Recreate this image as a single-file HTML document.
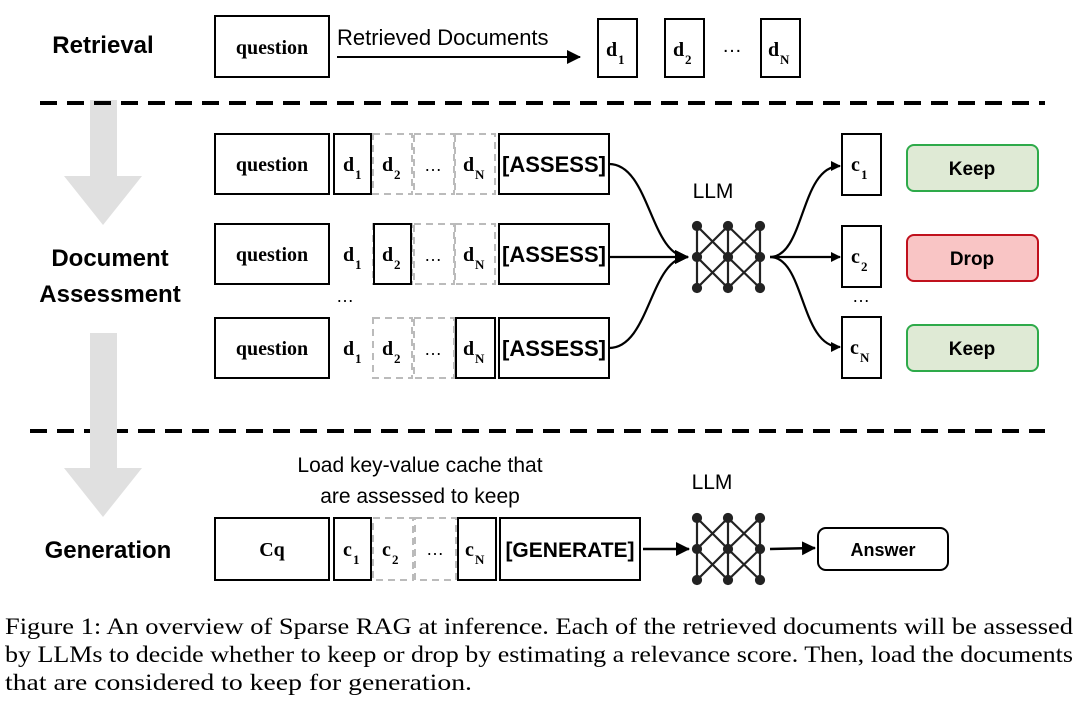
<!DOCTYPE html>
<html><head><meta charset="utf-8"><style>
body{margin:0;background:#fff;width:1080px;height:704px;overflow:hidden}
svg text{font-family:"Liberation Sans",sans-serif}
.s{font-family:"Liberation Serif",serif;font-weight:bold;font-size:20px}
.sub{font-family:"Liberation Serif",serif;font-weight:bold;font-size:13px}
.b{fill:#fff;stroke:#000;stroke-width:2}
.d{fill:#fff;stroke:#bbb;stroke-width:2;stroke-dasharray:7,5}
svg text.cap{font-family:"Liberation Serif",serif;font-size:23px}
</style></head><body>
<svg width="1080" height="704" style="position:absolute;left:0;top:0">
<defs><marker id="a" markerWidth="10" markerHeight="10" refX="9" refY="5" orient="auto" markerUnits="userSpaceOnUse"><path d="M0,0 L10,5 L0,10z" fill="#000"/></marker>
<marker id="a2" markerWidth="14" markerHeight="14" refX="13" refY="7" orient="auto" markerUnits="userSpaceOnUse"><path d="M0,0 L14,7 L0,14z" fill="#000"/></marker></defs>
<path d="M90,100 H117 V176 H142 L103,225 L64,176 H90Z" fill="#e0e0e0"/>
<line x1="40" y1="103" x2="1045" y2="103" stroke="#000" stroke-width="4" stroke-dasharray="17,10"/>
<line x1="30" y1="431" x2="1045" y2="431" stroke="#000" stroke-width="4" stroke-dasharray="17,10"/>
<path d="M90,333 H117 V468 H142 L103,517 L64,468 H90Z" fill="#e0e0e0"/>
<g font-weight="bold" font-size="24" text-anchor="middle">
<text x="103" y="53">Retrieval</text>
<text x="110" y="266">Document</text>
<text x="110" y="302">Assessment</text>
<text x="108" y="558">Generation</text>
</g>
<rect class="b" x="215" y="16" width="114" height="61"/>
<text class="s" x="272" y="54" text-anchor="middle">question</text>
<text x="337" y="45" font-size="22">Retrieved Documents</text>
<line x1="337" y1="57" x2="580" y2="57" stroke="#000" stroke-width="2" marker-end="url(#a2)"/>
<rect class="b" x="598" y="19" width="39" height="58"/><text class="s" x="606" y="56">d</text><text class="sub" x="618" y="64">1</text>
<rect class="b" x="665" y="19" width="39" height="58"/><text class="s" x="673" y="56">d</text><text class="sub" x="685" y="64">2</text>
<text x="732" y="52" font-size="20" text-anchor="middle">…</text>
<rect class="b" x="761" y="19" width="39" height="58"/><text class="s" x="768" y="56">d</text><text class="sub" x="780" y="64">N</text>
<g id="r1">
<rect class="b" x="215" y="134" width="114" height="60"/><text class="s" x="272" y="171" text-anchor="middle">question</text>
<rect class="d" x="373" y="134" width="39" height="60"/><rect class="d" x="414" y="134" width="40" height="60"/><rect class="d" x="455" y="134" width="40" height="60"/>
<rect class="b" x="499" y="134" width="110" height="60"/><text x="554" y="172" font-size="22" font-weight="bold" text-anchor="middle">[ASSESS]</text>
</g>
<rect class="b" x="334" y="134" width="37" height="60"/>
<text class="s" x="343" y="171">d</text><text class="sub" x="355" y="179">1</text>
<text class="s" x="382" y="171">d</text><text class="sub" x="394" y="179">2</text>
<text x="433" y="171" font-size="18" text-anchor="middle">…</text>
<text class="s" x="463" y="171">d</text><text class="sub" x="475" y="179">N</text>
<use href="#r1" y="90"/>
<rect class="b" x="374" y="224" width="37" height="60"/>
<text class="s" x="343" y="261">d</text><text class="sub" x="355" y="269">1</text>
<text class="s" x="382" y="261">d</text><text class="sub" x="394" y="269">2</text>
<text x="433" y="261" font-size="18" text-anchor="middle">…</text>
<text class="s" x="463" y="261">d</text><text class="sub" x="475" y="269">N</text>
<text x="345" y="302" font-size="18" text-anchor="middle">…</text>
<use href="#r1" y="184"/>
<rect class="b" x="456" y="318" width="39" height="60"/>
<text class="s" x="343" y="355">d</text><text class="sub" x="355" y="363">1</text>
<text class="s" x="382" y="355">d</text><text class="sub" x="394" y="363">2</text>
<text x="433" y="355" font-size="18" text-anchor="middle">…</text>
<text class="s" x="463" y="355">d</text><text class="sub" x="475" y="363">N</text>
<g fill="none" stroke="#000" stroke-width="2.2">
<path d="M609,164 C650,164 650,257 688,257" marker-end="url(#a2)"/>
<path d="M609,257 H688" marker-end="url(#a2)"/>
<path d="M609,348 C650,348 650,257 688,257" marker-end="url(#a2)"/>
<path d="M770,257 C805,257 800,166 840,166" marker-end="url(#a)"/>
<path d="M770,257 H840" marker-end="url(#a)"/>
<path d="M770,257 C805,257 800,347 840,347" marker-end="url(#a)"/>
</g>
<text x="713" y="198" font-size="21" text-anchor="middle">LLM</text>
<g id="net" stroke="#222" stroke-width="2.2" fill="#222">
<path d="M697,226V288M728,226V288M760,226V288M697,226L728,257L697,288M728,226L697,257L728,288M728,226L760,257L728,288M760,226L728,257L760,288" fill="none"/>
<circle cx="697" cy="226" r="4"/><circle cx="728" cy="226" r="4"/><circle cx="760" cy="226" r="4"/>
<circle cx="697" cy="257" r="4"/><circle cx="728" cy="257" r="4"/><circle cx="760" cy="257" r="4"/>
<circle cx="697" cy="288" r="4"/><circle cx="728" cy="288" r="4"/><circle cx="760" cy="288" r="4"/>
</g>
<rect class="b" x="842" y="134" width="39" height="61"/><text class="s" x="851" y="171">c</text><text class="sub" x="861" y="179">1</text>
<rect class="b" x="842" y="226" width="39" height="61"/><text class="s" x="851" y="263">c</text><text class="sub" x="861" y="271">2</text>
<text x="861" y="302" font-size="18" text-anchor="middle">…</text>
<rect class="b" x="842" y="317" width="39" height="61"/><text class="s" x="850" y="354">c</text><text class="sub" x="860" y="362">N</text>
<rect x="907" y="145" width="131" height="46" rx="7" fill="#dfead5" stroke="#2eaa4a" stroke-width="2"/>
<text x="972" y="175" font-size="19" font-weight="bold" text-anchor="middle">Keep</text>
<rect x="907" y="235" width="131" height="46" rx="7" fill="#f9c5c5" stroke="#c0111d" stroke-width="2"/>
<text x="972" y="265" font-size="19" font-weight="bold" text-anchor="middle">Drop</text>
<rect x="907" y="325" width="131" height="46" rx="7" fill="#dfead5" stroke="#2eaa4a" stroke-width="2"/>
<text x="972" y="355" font-size="19" font-weight="bold" text-anchor="middle">Keep</text>
<text x="420" y="472" font-size="21" text-anchor="middle">Load key-value cache that</text>
<text x="420" y="503" font-size="21" text-anchor="middle">are assessed to keep</text>
<rect class="b" x="215" y="518" width="114" height="62"/><text class="s" x="272" y="556" text-anchor="middle">Cq</text>
<rect class="d" x="373" y="518" width="40" height="62"/><rect class="d" x="415" y="518" width="41" height="62"/>
<rect class="b" x="334" y="518" width="37" height="62"/><text class="s" x="343" y="556">c</text><text class="sub" x="353" y="564">1</text>
<text class="s" x="382" y="556">c</text><text class="sub" x="392" y="564">2</text>
<text x="435" y="555" font-size="18" text-anchor="middle">…</text>
<rect class="b" x="458" y="518" width="38" height="62"/><text class="s" x="465" y="556">c</text><text class="sub" x="475" y="564">N</text>
<rect class="b" x="500" y="518" width="140" height="62"/><text x="570" y="557" font-size="21" font-weight="bold" text-anchor="middle">[GENERATE]</text>
<line x1="643" y1="549" x2="689" y2="549" stroke="#000" stroke-width="2.5" marker-end="url(#a2)"/>
<text x="712" y="489" font-size="21" text-anchor="middle">LLM</text>
<use href="#net" y="292"/>
<line x1="770" y1="549" x2="815" y2="548" stroke="#000" stroke-width="2.5" marker-end="url(#a2)"/>
<rect x="818" y="528" width="130" height="42" rx="8" fill="#fff" stroke="#000" stroke-width="2"/>
<text x="883" y="556" font-size="18" font-weight="bold" text-anchor="middle">Answer</text>
<text class="cap" x="5" y="634" textLength="1068" lengthAdjust="spacingAndGlyphs">Figure 1: An overview of Sparse RAG at inference. Each of the retrieved documents will be assessed</text>
<text class="cap" x="5" y="662" textLength="1068" lengthAdjust="spacingAndGlyphs">by LLMs to decide whether to keep or drop by estimating a relevance score. Then, load the documents</text>
<text class="cap" x="5" y="690" textLength="467" lengthAdjust="spacingAndGlyphs">that are considered to keep for generation.</text>
</svg>
</body></html>
